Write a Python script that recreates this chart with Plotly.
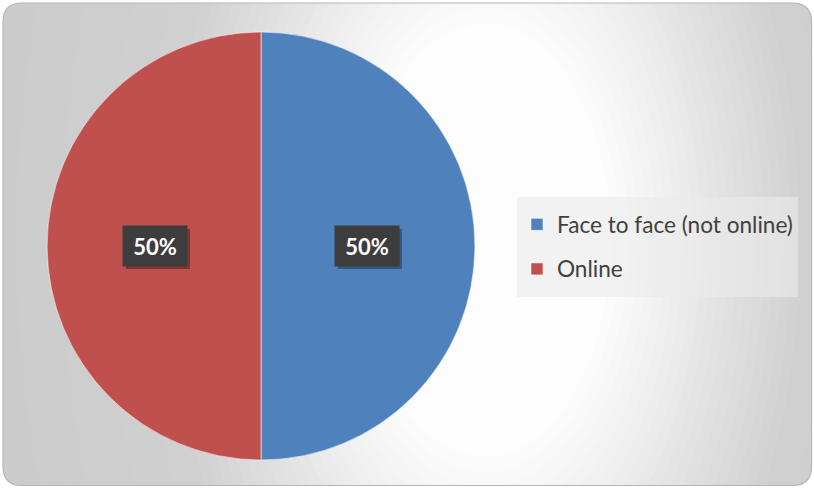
import math
import plotly.graph_objects as go

# ---- data ----
categories = ["Face to face (not online)", "Online"]
values = [50, 50]
colors = ["#4F81BD", "#C0504D"]

# ---- geometry (pixels) ----
W, H = 814, 488
PIE_CX, PIE_CY, PIE_R = 261, 246, 214


def px(x):
    return x / W


def py(y):
    return 1 - y / H


fig = go.Figure()

legend_labels = [
    f'<span style="font-size:22.6px;baseline-shift:4.5px">{c}</span>' for c in categories
]

fig.add_trace(
    go.Pie(
        labels=legend_labels,
        values=values,
        sort=False,
        direction="clockwise",
        rotation=0,
        marker=dict(colors=colors, line=dict(color="rgba(255,255,255,0.55)", width=1)),
        textinfo="none",
        hoverinfo="percent",
        domain=dict(
            x=[px(PIE_CX - PIE_R), px(PIE_CX + PIE_R)],
            y=[py(PIE_CY + PIE_R), py(PIE_CY - PIE_R)],
        ),
    )
)

# ---- background gradient (concentric ellipses) ----
GCX, GCY, GRX, GRY = 485, 240, 360, 620


def grad_val(f):
    if f <= 0.35:
        return 253
    if f <= 0.9:
        return 253 - (f - 0.35) / 0.55 * (253 - 208)
    if f <= 1.6:
        return 208 - (f - 0.9) / 0.7 * 6
    return 202


shapes = []
n = 52
for i in range(n):
    f = 1.6 - i * 0.025
    if f < 0.34:
        break
    g = int(round(grad_val(f)))
    shapes.append(
        dict(
            type="circle", xref="paper", yref="paper", layer="below",
            x0=px(GCX - f * GRX), x1=px(GCX + f * GRX),
            y0=py(GCY + f * GRY), y1=py(GCY - f * GRY),
            fillcolor=f"rgb({g},{g},{g})", line=dict(width=0),
        )
    )


def rounded_rect_path(L, T, R, B, r):
    pts = [
        ("M", (L + r, T)), ("L", (R - r, T)), ("Q", (R, T), (R, T + r)),
        ("L", (R, B - r)), ("Q", (R, B), (R - r, B)),
        ("L", (L + r, B)), ("Q", (L, B), (L, B - r)),
        ("L", (L, T + r)), ("Q", (L, T), (L + r, T)),
    ]
    s = ""
    for item in pts:
        cmd = item[0]
        coords = " ".join(f"{px(x):.5f},{py(y):.5f}" for x, y in item[1:])
        s += f"{cmd} {coords} "
    return s + "Z"


RL, RT, RR, RB, RAD = 3, 3, 811.5, 485.5, 19
inner = rounded_rect_path(RL, RT, RR, RB, RAD)
outer = "M -0.01,-0.01 L 1.01,-0.01 L 1.01,1.01 L -0.01,1.01 Z "
shapes.append(
    dict(type="path", xref="paper", yref="paper", layer="below", path=outer + inner,
         fillrule="evenodd", fillcolor="white", line=dict(width=0))
)
shapes.append(
    dict(type="path", xref="paper", yref="paper", layer="below", path=inner,
         fillcolor="rgba(0,0,0,0)", line=dict(color="#b5b5b5", width=1.2))
)

# ---- data labels (percent boxes) ----
BOX_W, BOX_H, SHADOW = 64, 40, 3
total = sum(values)
annotations = []
cum = 0
for v in values:
    mid = (cum + v / 2) / total * 2 * math.pi
    cum += v
    lx = PIE_CX + 0.495 * PIE_R * math.sin(mid)
    ly = PIE_CY - 0.495 * PIE_R * math.cos(mid)
    # drop shadow behind the label box
    shapes.append(
        dict(type="rect", xref="paper", yref="paper", layer="above",
             x0=px(lx - BOX_W / 2 + SHADOW), x1=px(lx + BOX_W / 2 + SHADOW),
             y0=py(ly + BOX_H / 2 + SHADOW), y1=py(ly - BOX_H / 2 + SHADOW),
             fillcolor="rgba(0,0,0,0.33)", line=dict(width=0))
    )
    label = f"<b>{round(v / total * 100)}%</b>"
    annotations.append(
        dict(x=px(lx), y=py(ly), xref="paper", yref="paper", text=label,
             showarrow=False, xanchor="center", yanchor="middle",
             width=BOX_W, height=BOX_H, borderpad=0, bgcolor="#3d3d3d",
             font=dict(family="Lato", size=22, color="white"))
    )

fig.update_layout(
    width=W, height=H, autosize=False,
    margin=dict(l=0, r=0, t=0, b=0),
    paper_bgcolor="white",
    shapes=shapes,
    annotations=annotations,
    showlegend=True,
    legend=dict(
        x=px(517), y=py(197), xanchor="left", yanchor="top",
        bgcolor="rgba(235,235,235,0.6)", borderwidth=0,
        font=dict(family="Lato", size=32, color="#404040"),
        traceorder="normal",
    ),
)

fig.write_html("out.html", config={"displayModeBar": False},
               post_script="document.body.style.margin='0';")
